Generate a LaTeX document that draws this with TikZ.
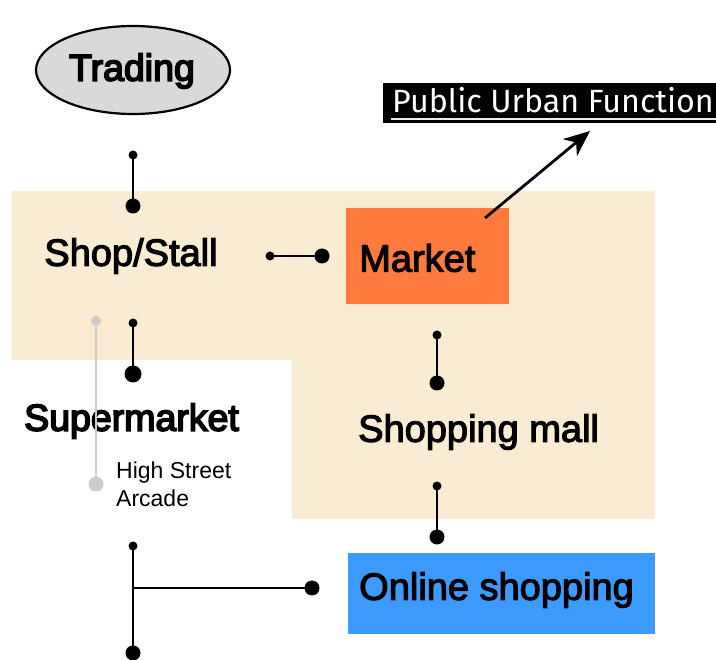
\documentclass[tikz,border=0pt]{standalone}
\usepackage{fontspec}
\setmainfont{Liberation Sans}
\newfontfamily\heavyfont[FakeBold=3]{Liberation Sans}
\newfontfamily\heavierfont[FakeBold=4.5]{Liberation Sans}
\newfontfamily\labelfont{Fira Sans}
\usetikzlibrary{arrows.meta,shapes.geometric}
\definecolor{zonebeige}{HTML}{FAEBD3}
\definecolor{marketorange}{HTML}{FF7A3C}
\definecolor{onlineblue}{HTML}{3D9BFF}
\definecolor{ovalgray}{HTML}{D9D9D9}
\definecolor{faintgray}{HTML}{CCCCCC}
\tikzset{
  bigtext/.style={font=\heavyfont\fontsize{38}{40}\selectfont, inner sep=0pt},
  boldtext/.style={font=\heavierfont\fontsize{37.5}{40}\selectfont, inner sep=0pt},
  smalltext/.style={font=\fontsize{23}{28}\selectfont, inner sep=0pt, align=left},
  link/.style={line width=2.5pt, black},
  smalldot/.style={circle, fill=black, inner sep=0pt, minimum size=9pt},
  bigdot/.style={circle, fill=black, inner sep=0pt, minimum size=15pt},
  graydot/.style={circle, fill=faintgray, inner sep=0pt},
}
\begin{document}
\begin{tikzpicture}[x=1pt,y=-1pt]
\useasboundingbox (0,0) rectangle (716,660);
\fill[white] (0,0) rectangle (716,660);

% shaded zone behind the shop, market and mall
\fill[zonebeige] (12,191) -- (655,191) -- (655,519) -- (292,519)
  -- (292,360) -- (12,360) -- cycle;

% coloured boxes
\fill[marketorange] (346,208) rectangle (509,304);
\fill[onlineblue] (348,553) rectangle (655,634);

% labelled items
\node[ellipse, draw=black, line width=2.2pt, fill=ovalgray,
      minimum width=194pt, minimum height=88pt, inner sep=0pt]
      (trading) at (133,70) {};
\node[boldtext] (tradingtxt) at (132,71) {Trading};
\node[bigtext] (shop) at (131,256) {Shop/Stall};
\node[bigtext, anchor=west] (market) at (359,258) {Market};
\node[boldtext, anchor=west] (super) at (24,421) {Supermarket};
\node[smalltext, anchor=north west] (arcade) at (116,462) {High Street\\Arcade};
\node[bigtext, anchor=west] (mall) at (358,432) {Shopping mall};
\node[bigtext, anchor=west] (online) at (359,590) {Online shopping};

% public function tag
\fill[black] (383,83) rectangle (716,123);
\node[font=\labelfont\fontsize{32.2}{34}\selectfont, text=white, inner sep=0pt,
      anchor=base west] (public) at (392,113) {Public Urban Function};
\coordinate (ulA) at (391,119);
\coordinate (ulB) at (716,119);
\draw[white!85!gray, line width=1.6pt] (ulA) -- (ulB);

% connector end points
\coordinate (t1) at (133,155);  \coordinate (t2) at (133,206);
\coordinate (h1) at (270,256);  \coordinate (h2) at (322,256);
\coordinate (s1) at (133,323);  \coordinate (s2) at (133,374);
\coordinate (g1) at (96,321);   \coordinate (g2) at (96,484);
\coordinate (m1) at (437,335);  \coordinate (m2) at (437,383);
\coordinate (n1) at (437,486);  \coordinate (n2) at (437,537);
\coordinate (b1) at (133,546);  \coordinate (b2) at (133,653);
\coordinate (bj) at (133,588);  \coordinate (b3) at (312,588);
\coordinate (a1) at (485,218);  \coordinate (a2) at (590,131);

% faint link
\draw[faintgray, line width=2.5pt] (g1) -- (g2);
\node[graydot, minimum size=10pt] at (g1) {};
\node[graydot, minimum size=15pt] at (g2) {};

% black links
\draw[link] (t1) -- (t2);
\draw[link] (h1) -- (h2);
\draw[link] (s1) -- (s2);
\draw[link] (m1) -- (m2);
\draw[link] (n1) -- (n2);
\draw[link] (b1) -- (b2);
\draw[link] (bj) -- (b3);
\foreach \p in {t1,h1,s1,m1,n1,b1} \node[smalldot] at (\p) {};
\foreach \p in {t2,h2,m2,n2,b2,b3} \node[bigdot] at (\p) {};
\node[bigdot, minimum size=17pt] at (s2) {};

% arrow to the public function tag
\draw[line width=2.8pt, -{Stealth[length=26pt, width=22pt, inset=8pt]}] (a1) -- (a2);
\end{tikzpicture}
\end{document}
